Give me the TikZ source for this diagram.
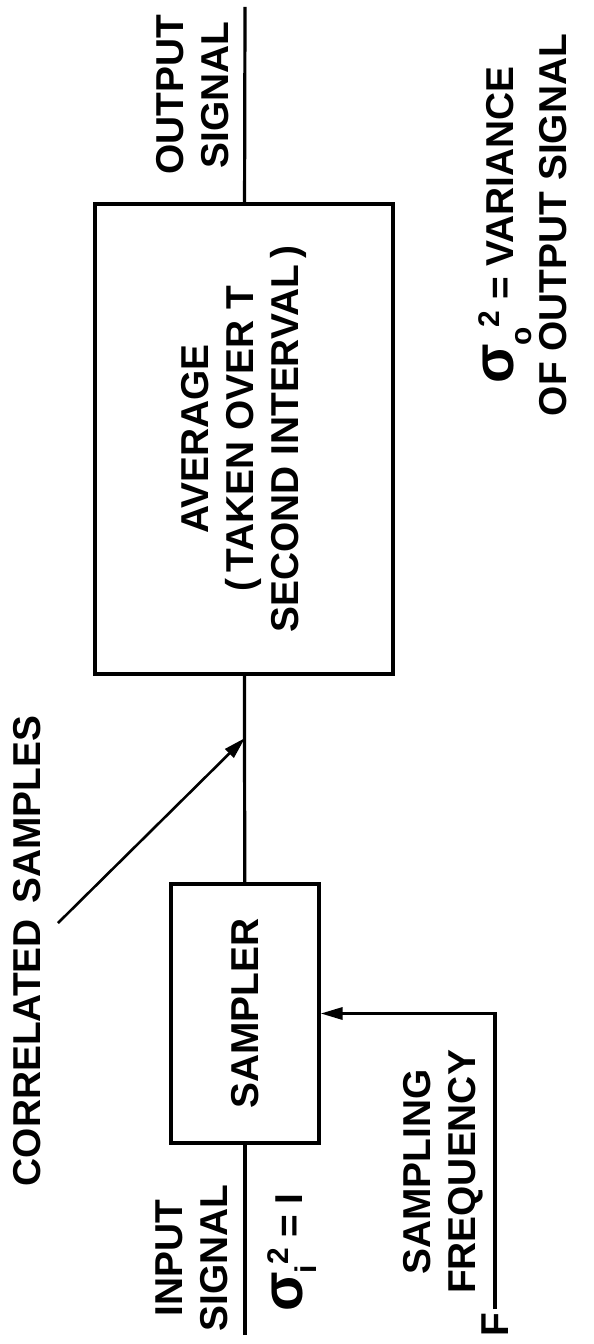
\documentclass[tikz,border=0pt]{standalone}
\usepackage{fontspec}
\setmainfont{Liberation Sans}
\usetikzlibrary{arrows.meta}

% sigma with a subscript and a squared superscript
\newcommand{\varsym}[2]{{\fontsize{58}{58}\selectfont σ}\kern-1bp\raisebox{#2}{\fontsize{30}{30}\selectfont #1}\kern0bp\raisebox{14bp}{\fontsize{30}{30}\selectfont 2}}

\begin{document}
\begin{tikzpicture}[x=1bp,y=-1bp,
  lbl/.style={font=\fontsize{39}{45}\selectfont\bfseries, inner sep=0pt, rotate=90, align=center},
  blk/.style={draw, line width=3.2bp, inner sep=0pt, rotate=90,
              font=\fontsize{39}{45}\selectfont\bfseries, align=center},
  wire/.style={line width=3.2bp},
  tip/.style={-{Triangle[length=22bp,width=12bp]}}
]
\fill[white] (0,0) rectangle (594,1344);
\useasboundingbox (0,0) rectangle (594,1344);

% blocks
\node[blk, minimum width=259bp, minimum height=148bp] (smp) at (245,1013.5) {SAMPLER};
\node[blk, minimum width=470bp, minimum height=298bp] (avg) at (244,439)
  {AVERAGE\\(\,TAKEN OVER T\\SECOND INTERVAL\,)};

% signal path
\coordinate (in)  at (245,1335);
\coordinate (out) at (245,7);
\coordinate (tap) at (245,738);
\coordinate (cs)  at (58,923);
\draw[wire] (in) -- (smp);
\draw[wire] (smp) -- (avg);
\draw[wire] (avg) -- (out);

% labels
\node[lbl] (corr)   at (27,951)   {CORRELATED\hspace{0.4em}SAMPLES};
\node[lbl] (insig)  at (192,1258) {INPUT\\SIGNAL};
\node[lbl] (outsig) at (192.5,95) {OUTPUT\\SIGNAL};
\node[lbl] (freq)   at (443,1172) {SAMPLING\\FREQUENCY};
\node[lbl, outer sep=4bp] (F) at (495,1325) {F};
\node[lbl, anchor=base west] (vi) at (302,1312) {\varsym{i}{-14bp}\ = I};
\node[lbl, font=\fontsize{39}{53}\selectfont\bfseries] (vo) at (523,225)
  {\varsym{o}{-18bp}\ = VARIANCE\\OF OUTPUT SIGNAL};

% sampling clock and tap arrow
\draw[wire, tip] (F.east) |- (smp);
\draw[line width=2.6bp, tip] (cs) -- (tap);
\end{tikzpicture}
\end{document}
